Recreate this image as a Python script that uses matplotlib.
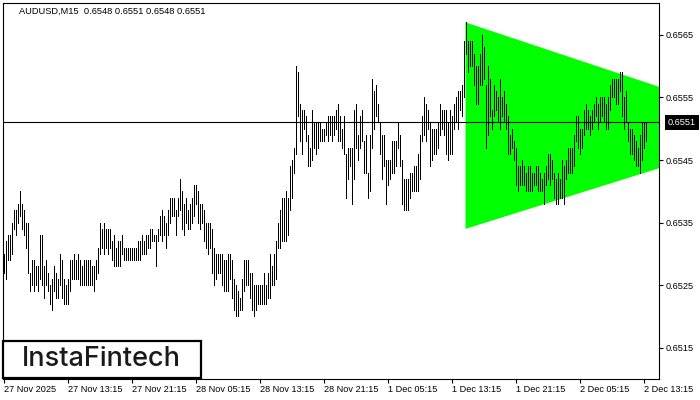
import matplotlib
matplotlib.use('Agg')
import matplotlib.pyplot as plt
from matplotlib.patches import Polygon, Rectangle
from matplotlib.transforms import blended_transform_factory
import numpy as np

symbol = 'AUDUSD,M15'
last_ohlc = [0.6548, 0.6551, 0.6548, 0.6551]

# bar highs / lows (M15), in units of 0.0001
high_pts = [6530,6532,6533,6533,6535,6537,6537,6538,6540,6538,
            6537,6535,6535,6527,6529,6529,6528,6528,6533,6533,
            6528,6529,6527,6525,6526,6528,6527,6526,6530,6529,
            6526,6525,6526,6529,6529,6530,6529,6530,6529,6528,
            6529,6529,6529,6529,6528,6528,6529,6531,6535,6534,
            6535,6534,6534,6534,6532,6533,6531,6532,6532,6533,
            6531,6531,6531,6531,6531,6531,6531,6532,6532,6533,
            6532,6533,6533,6534,6534,6533,6533,6534,6536,6537,
            6536,6535,6537,6539,6539,6539,6537,6539,6542,6540,
            6538,6539,6537,6538,6539,6541,6541,6540,6538,6538,
            6537,6535,6535,6535,6534,6531,6530,6530,6530,6530,
            6529,6529,6530,6530,6529,6526,6525,6524,6523,6526,
            6529,6529,6529,6527,6527,6525,6525,6525,6525,6525,
            6527,6525,6527,6530,6528,6530,6532,6535,6537,6539,
            6539,6540,6539,6544,6545,6547,6560,6559,6554,6553,
            6553,6552,6549,6547,6553,6551,6551,6551,6551,6550,
            6550,6551,6552,6552,6552,6552,6553,6554,6552,6550,
            6552,6546,6547,6547,6547,6553,6554,6549,6552,6553,
            6548,6549,6543,6549,6558,6556,6557,6554,6551,6549,
            6549,6545,6545,6545,6548,6548,6548,6551,6549,6545,
            6542,6542,6542,6543,6543,6544,6544,6546,6549,6552,
            6555,6554,6553,6551,6550,6550,6550,6551,6554,6553,
            6553,6553,6551,6553,6552,6554,6555,6556,6556,6557,
            6564,6567,6564,6564,6564,6562,6560,6560,6562,6565,
            6563,6557,6560,6558,6553,6557,6556,6555,6558,6555,
            6556,6554,6552,6549,6550,6548,6547,6544,6544,6545,
            6544,6543,6544,6544,6543,6543,6544,6544,6543,6542,
            6543,6544,6546,6546,6545,6543,6542,6543,6542,6545,
            6544,6545,6547,6547,6547,6549,6552,6552,6550,6550,
            6553,6554,6553,6552,6553,6554,6555,6554,6555,6555,
            6555,6554,6555,6557,6558,6558,6558,6558,6559,6559,
            6555,6556,6551,6550,6550,6549,6548,6547,6549,6551,
            6551,6551]
low_pts = [6527,6526,6529,6529,6530,6534,6533,6535,6536,6534,
           6533,6531,6527,6524,6525,6524,6525,6524,6526,6525,
           6523,6525,6524,6522,6521,6524,6523,6523,6525,6523,
           6522,6522,6522,6524,6526,6526,6526,6526,6525,6525,
           6525,6525,6525,6525,6525,6524,6526,6527,6530,6531,
           6530,6531,6530,6531,6529,6528,6528,6528,6528,6530,
           6529,6529,6529,6529,6529,6529,6529,6529,6529,6530,
           6530,6530,6531,6531,6532,6532,6528,6532,6533,6532,
           6533,6531,6533,6535,6536,6536,6533,6536,6537,6534,
           6533,6535,6534,6534,6535,6536,6538,6535,6534,6535,
           6532,6531,6530,6531,6527,6525,6526,6527,6527,6525,
           6524,6524,6524,6526,6523,6521,6520,6520,6521,6521,
           6524,6525,6525,6523,6521,6520,6521,6522,6522,6522,
           6522,6522,6523,6523,6525,6525,6526,6531,6531,6532,
           6532,6532,6533,6537,6539,6543,6546,6552,6548,6546,
           6550,6548,6544,6544,6545,6547,6546,6547,6548,6548,
           6548,6549,6548,6549,6548,6549,6550,6548,6548,6547,
           6546,6539,6542,6544,6538,6542,6547,6545,6547,6548,
           6543,6543,6539,6540,6547,6550,6552,6551,6546,6542,
           6544,6538,6541,6542,6543,6543,6544,6547,6544,6538,
           6537,6537,6537,6539,6540,6540,6540,6540,6542,6548,
           6549,6548,6550,6544,6545,6546,6546,6547,6549,6550,
           6549,6546,6545,6546,6546,6550,6551,6550,6553,6552,
           6555,6562,6559,6560,6560,6557,6554,6554,6557,6557,
           6558,6547,6549,6552,6550,6552,6553,6551,6550,6552,
           6551,6550,6546,6546,6547,6545,6541,6540,6541,6541,
           6541,6540,6540,6540,6540,6541,6541,6540,6540,6540,
           6538,6541,6542,6541,6542,6539,6538,6538,6539,6539,
           6538,6542,6543,6543,6543,6544,6548,6547,6546,6547,
           6549,6550,6550,6549,6550,6551,6552,6550,6551,6552,
           6551,6550,6550,6553,6555,6555,6554,6554,6556,6552,
           6550,6551,6548,6546,6546,6545,6544,6544,6543,6545,
           6547,6548]

x_tick_labels = ['27 Nov 2025', '27 Nov 13:15', '27 Nov 21:15', '28 Nov 05:15',
                 '28 Nov 13:15', '28 Nov 21:15', '1 Dec 05:15', '1 Dec 13:15',
                 '1 Dec 21:15', '2 Dec 05:15', '2 Dec 13:15']
bars_per_label = 32
y_ticks = [0.6515, 0.6525, 0.6535, 0.6545, 0.6555, 0.6565]
current_price = 0.6551

# symmetrical triangle pattern (bar index, price)
tri_start_bar = 231
tri_upper = 0.6567
tri_lower = 0.6534
tri_apex_bar = 390.75
tri_apex = 0.6550

high = np.array(high_pts) / 1e4
low = np.array(low_pts) / 1e4
idx = np.arange(len(high))

W, H = 700, 400
fig = plt.figure(figsize=(7, 4), dpi=100)
ax = fig.add_axes([2.5 / W, 1 - 379 / H, (659 - 2.5) / W, (379 - 3) / H])
fnt = 'Liberation Sans'

tri = Polygon([(tri_start_bar, tri_upper), (tri_apex_bar, tri_apex), (tri_start_bar, tri_lower)],
              closed=True, facecolor='#00ff00', edgecolor='none', zorder=1)
ax.add_patch(tri)
ax.vlines(idx, low, high, colors='black', linewidth=0.72, antialiased=False, zorder=3)
ax.axhline(current_price, color='black', linewidth=0.8, zorder=4)

ax.set_xlim(-0.5, 327.75)
ax.set_ylim(0.65100, 0.65701)

ax.yaxis.tick_right()
ax.set_yticks(y_ticks)
ax.set_yticklabels(['%.4f' % v for v in y_ticks], fontsize=6.6, family=fnt)
xt = [i * bars_per_label for i in range(len(x_tick_labels))]
ax.set_xticks(xt)
ax.set_xticklabels(x_tick_labels, fontsize=6.6, family=fnt)
for lab in ax.get_xticklabels():
    lab.set_ha('left')
ax.tick_params(axis='both', direction='out', length=3, width=0.8, pad=1.5, colors='black')
for s in ax.spines.values():
    s.set_linewidth(0.8)

tr = blended_transform_factory(ax.transAxes, ax.transData)
ax.text(1.0135, current_price, '%.4f' % current_price, transform=tr, color='white',
        fontsize=6.6, family=fnt, va='center', ha='left', zorder=6, clip_on=False,
        bbox=dict(boxstyle='square,pad=0.35', facecolor='black', edgecolor='none'))

fig.text(19 / W, 1 - 11 / H, symbol + '  ' + ' '.join('%.4f' % v for v in last_ohlc),
         fontsize=6.7, family=fnt, va='center', ha='left')

fig.add_artist(Rectangle((3 / W, 1 - 378 / H), 198 / W, 37.5 / H, transform=fig.transFigure,
                         facecolor='white', edgecolor='black', linewidth=1.6, zorder=10))
fig.text(101 / W, 1 - 359 / H, 'InstaFintech', fontsize=19.5, family='Inter', weight='medium',
         color='#1a1a1a', ha='center', va='center', zorder=11)

fig.savefig('out.png', dpi=100)
